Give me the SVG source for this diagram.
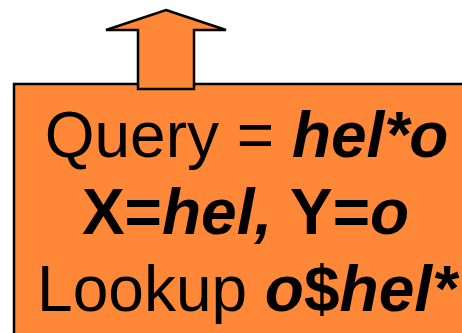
<svg xmlns="http://www.w3.org/2000/svg" width="462" height="333" viewBox="0 0 462 333">
<style>
.shape{fill:#FF8838;stroke:#000;stroke-width:2.5}
.t{font-family:"Liberation Sans",Arial,sans-serif;font-size:64px;fill:#000;text-anchor:middle}
.b{font-weight:bold}
.bi{font-weight:bold;font-style:italic}
</style>
<g id="box">
<rect class="shape" x="14" y="84" width="470" height="270"/>
<text class="t" x="246.5" y="157">Query = <tspan class="bi">hel*o</tspan></text>
<text class="t" x="245.5" y="234"><tspan class="b">X=</tspan><tspan class="bi">hel, </tspan><tspan class="b">Y=</tspan><tspan class="bi">o</tspan></text>
<text class="t" x="247" y="311">Lookup <tspan class="bi">o</tspan><tspan class="b">$</tspan><tspan class="bi">hel*</tspan></text>
</g>
<g id="connectors">
<polygon class="shape" points="166,10 226,30 194,30 194,89 138,89 138,30 106,30"/>
</g>
</svg>
